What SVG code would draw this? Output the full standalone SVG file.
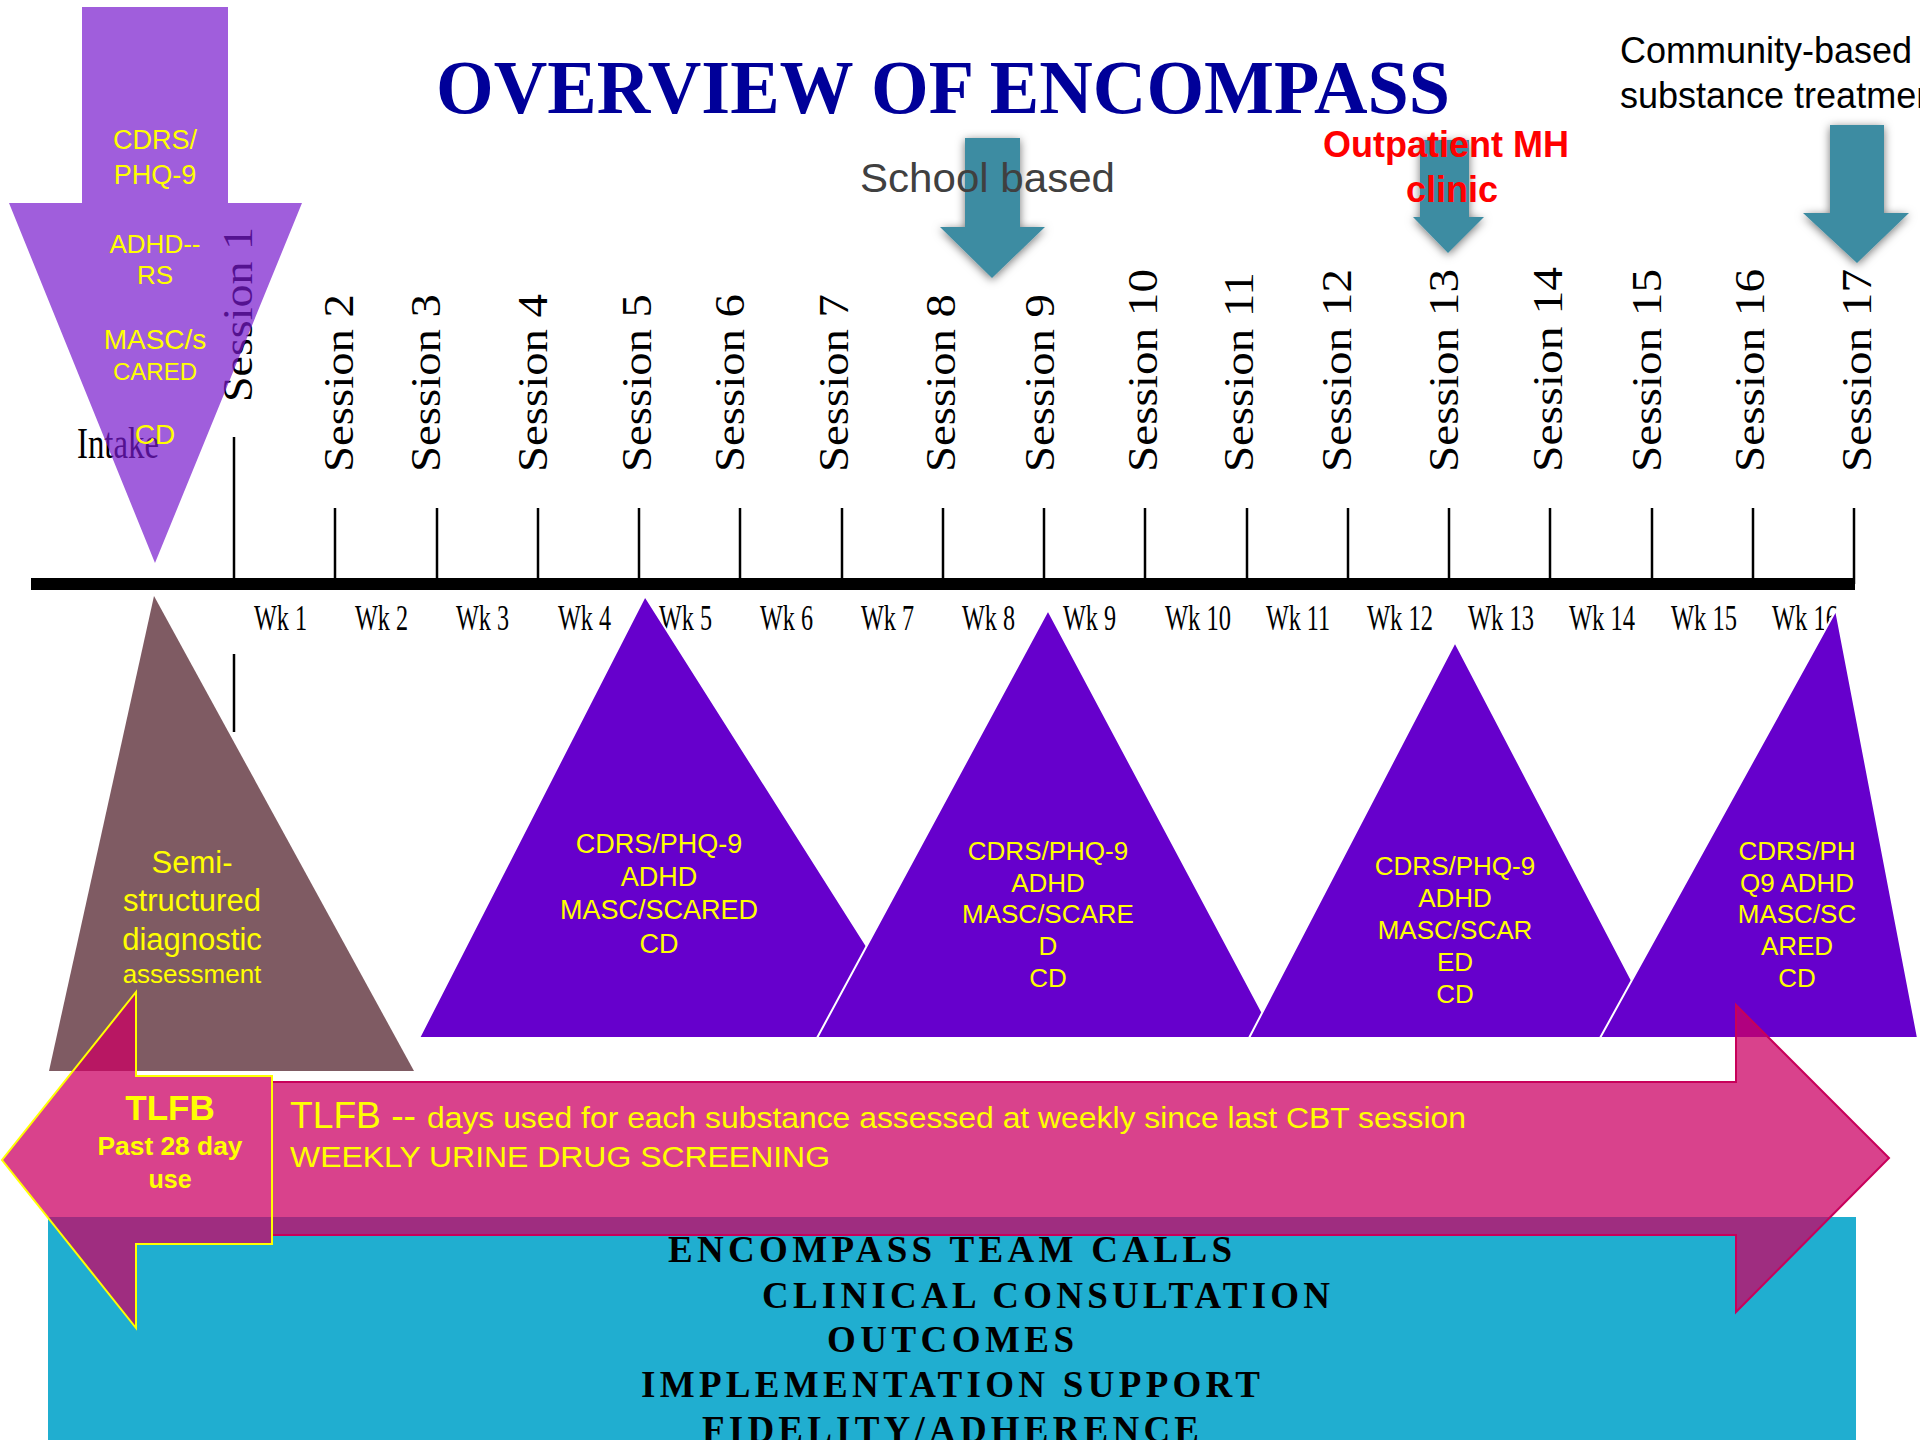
<svg xmlns="http://www.w3.org/2000/svg" width="1920" height="1440" viewBox="0 0 1920 1440">
<defs>
<style>
.sans{font-family:"Liberation Sans",Arial,sans-serif}
.serif{font-family:"Liberation Serif","Times New Roman",serif}
.ses{font-family:"Liberation Serif","Times New Roman",serif;font-size:42px;fill:#000}
.wk{font-family:"Liberation Serif","Times New Roman",serif;font-size:36px;fill:#000}
.y{fill:#ffff00;font-family:"Liberation Sans",Arial,sans-serif;text-anchor:middle}
.tri{fill:#6600cc;stroke:#ffffff;stroke-width:2}
.teal{fill:#3e8ca2}
.tick{stroke:#000;stroke-width:2.5}
.team{font-family:"Liberation Serif","Times New Roman",serif;font-weight:bold;font-size:37px;fill:#000}
</style>
<filter id="sh" x="-60%" y="-40%" width="220%" height="180%">
<feDropShadow dx="0" dy="2" stdDeviation="5" flood-color="#000" flood-opacity="0.55"/>
</filter>
</defs>
<rect width="1920" height="1440" fill="#ffffff"/>

<g id="title">
<text class="serif" x="436" y="113" font-size="76" font-weight="bold" fill="#000099" textLength="1014" lengthAdjust="spacingAndGlyphs">OVERVIEW OF ENCOMPASS</text>
</g>

<g id="setting-arrows">
<path class="teal" filter="url(#sh)" d="M965,138 H1020 V227 H1045 L992,278 L940,227 H965 Z"/>
<path class="teal" filter="url(#sh)" d="M1420,140 H1469 V217 H1484 L1448,253 L1413,217 H1420 Z"/>
<path class="teal" filter="url(#sh)" d="M1830,125 H1884 V213 H1909 L1857,263 L1803,213 H1830 Z"/>
</g>

<g id="school-based">
<text class="sans" x="860" y="192" font-size="40" fill="#404040" textLength="255" lengthAdjust="spacingAndGlyphs">School based</text>
</g>
<g id="outpatient">
<text class="sans" x="1446" y="157" font-size="36" font-weight="bold" fill="#ff0000" text-anchor="middle">Outpatient MH</text>
<text class="sans" x="1452" y="202" font-size="36" font-weight="bold" fill="#ff0000" text-anchor="middle">clinic</text>
</g>
<g id="community">
<text class="sans" x="1620" y="63" font-size="36" fill="#000">Community-based</text>
<text class="sans" x="1620" y="108" font-size="36" fill="#000">substance treatment</text>
</g>

<g id="sessions">
<text class="ses" transform="translate(252,402) rotate(-90)" textLength="175" lengthAdjust="spacingAndGlyphs">Session 1</text>
<text class="ses" transform="translate(353,472) rotate(-90)" textLength="178" lengthAdjust="spacingAndGlyphs">Session 2</text>
<text class="ses" transform="translate(440,472) rotate(-90)" textLength="178" lengthAdjust="spacingAndGlyphs">Session 3</text>
<text class="ses" transform="translate(547,472) rotate(-90)" textLength="178" lengthAdjust="spacingAndGlyphs">Session 4</text>
<text class="ses" transform="translate(651,472) rotate(-90)" textLength="178" lengthAdjust="spacingAndGlyphs">Session 5</text>
<text class="ses" transform="translate(744,472) rotate(-90)" textLength="178" lengthAdjust="spacingAndGlyphs">Session 6</text>
<text class="ses" transform="translate(848,472) rotate(-90)" textLength="178" lengthAdjust="spacingAndGlyphs">Session 7</text>
<text class="ses" transform="translate(955,472) rotate(-90)" textLength="178" lengthAdjust="spacingAndGlyphs">Session 8</text>
<text class="ses" transform="translate(1054,472) rotate(-90)" textLength="178" lengthAdjust="spacingAndGlyphs">Session 9</text>
<text class="ses" transform="translate(1157,472) rotate(-90)" textLength="203" lengthAdjust="spacingAndGlyphs">Session 10</text>
<text class="ses" transform="translate(1253,472) rotate(-90)" textLength="200" lengthAdjust="spacingAndGlyphs">Session 11</text>
<text class="ses" transform="translate(1351,472) rotate(-90)" textLength="203" lengthAdjust="spacingAndGlyphs">Session 12</text>
<text class="ses" transform="translate(1458,472) rotate(-90)" textLength="203" lengthAdjust="spacingAndGlyphs">Session 13</text>
<text class="ses" transform="translate(1562,472) rotate(-90)" textLength="205" lengthAdjust="spacingAndGlyphs">Session 14</text>
<text class="ses" transform="translate(1661,472) rotate(-90)" textLength="203" lengthAdjust="spacingAndGlyphs">Session 15</text>
<text class="ses" transform="translate(1764,472) rotate(-90)" textLength="203" lengthAdjust="spacingAndGlyphs">Session 16</text>
<text class="ses" transform="translate(1871,472) rotate(-90)" textLength="203" lengthAdjust="spacingAndGlyphs">Session 17</text>
<text class="serif" x="77" y="458" font-size="44" fill="#000" textLength="82" lengthAdjust="spacingAndGlyphs">Intake</text>
</g>

<g id="intake-arrow">
<path d="M82,7 H228 V203 H302 L155,563 L9,203 H82 Z" fill="#7719cd" fill-opacity="0.7"/>
<text class="y" x="155" y="149" font-size="27">CDRS/</text>
<text class="y" x="155" y="184" font-size="27">PHQ-9</text>
<text class="y" x="155" y="253" font-size="26">ADHD--</text>
<text class="y" x="155" y="284" font-size="26">RS</text>
<text class="y" x="155" y="349" font-size="28">MASC/s</text>
<text class="y" x="155" y="380" font-size="24">CARED</text>
<text class="y" x="155" y="444" font-size="28">CD</text>
</g>

<g id="timeline">
<rect x="31" y="578" width="1824" height="12" fill="#000"/>
<line class="tick" x1="234" y1="437" x2="234" y2="584"/>
<line class="tick" x1="335" y1="508" x2="335" y2="584"/>
<line class="tick" x1="437" y1="508" x2="437" y2="584"/>
<line class="tick" x1="538" y1="508" x2="538" y2="584"/>
<line class="tick" x1="639" y1="508" x2="639" y2="584"/>
<line class="tick" x1="740" y1="508" x2="740" y2="584"/>
<line class="tick" x1="842" y1="508" x2="842" y2="584"/>
<line class="tick" x1="943" y1="508" x2="943" y2="584"/>
<line class="tick" x1="1044" y1="508" x2="1044" y2="584"/>
<line class="tick" x1="1145" y1="508" x2="1145" y2="584"/>
<line class="tick" x1="1247" y1="508" x2="1247" y2="584"/>
<line class="tick" x1="1348" y1="508" x2="1348" y2="584"/>
<line class="tick" x1="1449" y1="508" x2="1449" y2="584"/>
<line class="tick" x1="1550" y1="508" x2="1550" y2="584"/>
<line class="tick" x1="1652" y1="508" x2="1652" y2="584"/>
<line class="tick" x1="1753" y1="508" x2="1753" y2="584"/>
<line class="tick" x1="1854" y1="508" x2="1854" y2="584"/>
<line class="tick" x1="234" y1="654" x2="234" y2="732"/>
<text class="wk" x="254" y="630" textLength="53" lengthAdjust="spacingAndGlyphs">Wk 1</text>
<text class="wk" x="355" y="630" textLength="53" lengthAdjust="spacingAndGlyphs">Wk 2</text>
<text class="wk" x="456" y="630" textLength="53" lengthAdjust="spacingAndGlyphs">Wk 3</text>
<text class="wk" x="558" y="630" textLength="53" lengthAdjust="spacingAndGlyphs">Wk 4</text>
<text class="wk" x="659" y="630" textLength="53" lengthAdjust="spacingAndGlyphs">Wk 5</text>
<text class="wk" x="760" y="630" textLength="53" lengthAdjust="spacingAndGlyphs">Wk 6</text>
<text class="wk" x="861" y="630" textLength="53" lengthAdjust="spacingAndGlyphs">Wk 7</text>
<text class="wk" x="962" y="630" textLength="53" lengthAdjust="spacingAndGlyphs">Wk 8</text>
<text class="wk" x="1063" y="630" textLength="53" lengthAdjust="spacingAndGlyphs">Wk 9</text>
<text class="wk" x="1165" y="630" textLength="66" lengthAdjust="spacingAndGlyphs">Wk 10</text>
<text class="wk" x="1266" y="630" textLength="64" lengthAdjust="spacingAndGlyphs">Wk 11</text>
<text class="wk" x="1367" y="630" textLength="66" lengthAdjust="spacingAndGlyphs">Wk 12</text>
<text class="wk" x="1468" y="630" textLength="66" lengthAdjust="spacingAndGlyphs">Wk 13</text>
<text class="wk" x="1569" y="630" textLength="66" lengthAdjust="spacingAndGlyphs">Wk 14</text>
<text class="wk" x="1671" y="630" textLength="66" lengthAdjust="spacingAndGlyphs">Wk 15</text>
<text class="wk" x="1772" y="630" textLength="66" lengthAdjust="spacingAndGlyphs">Wk 16</text>
</g>

<g id="diagnostic">
<path d="M154,596 L414,1071 L49,1071 Z" fill="#7f5b63"/>
<text class="y" x="192" y="873" font-size="31">Semi-</text>
<text class="y" x="192" y="911" font-size="31">structured</text>
<text class="y" x="192" y="950" font-size="31">diagnostic</text>
<text class="y" x="192" y="983" font-size="26">assessment</text>
</g>

<g id="measures-1">
<path class="tri" d="M645,596 L925,1038 L419,1038 Z"/>
<text class="y" x="659" y="853" font-size="27">CDRS/PHQ-9</text>
<text class="y" x="659" y="886" font-size="27">ADHD</text>
<text class="y" x="659" y="919" font-size="27">MASC/SCARED</text>
<text class="y" x="659" y="953" font-size="27">CD</text>
</g>
<g id="measures-2">
<path class="tri" d="M1048,610 L1276,1038 L817,1038 Z"/>
<text class="y" x="1048" y="860" font-size="26">CDRS/PHQ-9</text>
<text class="y" x="1048" y="892" font-size="26">ADHD</text>
<text class="y" x="1048" y="923" font-size="26">MASC/SCARE</text>
<text class="y" x="1048" y="955" font-size="26">D</text>
<text class="y" x="1048" y="987" font-size="26">CD</text>
</g>
<g id="measures-3">
<path class="tri" d="M1455,642 L1662,1038 L1249,1038 Z"/>
<text class="y" x="1455" y="875" font-size="26">CDRS/PHQ-9</text>
<text class="y" x="1455" y="907" font-size="26">ADHD</text>
<text class="y" x="1455" y="939" font-size="26">MASC/SCAR</text>
<text class="y" x="1455" y="971" font-size="26">ED</text>
<text class="y" x="1455" y="1003" font-size="26">CD</text>
</g>
<g id="measures-4">
<path class="tri" d="M1836,610 L1918,1038 L1600,1038 Z"/>
<text class="y" x="1797" y="860" font-size="26">CDRS/PH</text>
<text class="y" x="1797" y="892" font-size="26">Q9 ADHD</text>
<text class="y" x="1797" y="923" font-size="26">MASC/SC</text>
<text class="y" x="1797" y="955" font-size="26">ARED</text>
<text class="y" x="1797" y="987" font-size="26">CD</text>
</g>

<g id="team-support">
<rect x="48" y="1217" width="1808" height="223" fill="#20aed0"/>
<text class="team" x="668" y="1262" textLength="564" lengthAdjust="spacing">ENCOMPASS TEAM CALLS</text>
<text class="team" x="762" y="1308" textLength="568" lengthAdjust="spacing">CLINICAL CONSULTATION</text>
<text class="team" x="827" y="1352" textLength="247" lengthAdjust="spacing">OUTCOMES</text>
<text class="team" x="641" y="1397" textLength="619" lengthAdjust="spacing">IMPLEMENTATION SUPPORT</text>
<text class="team" x="702" y="1442" textLength="497" lengthAdjust="spacing">FIDELITY/ADHERENCE</text>
</g>

<g id="tlfb-weekly">
<path d="M272,1082 H1736 V1005 L1889,1158 L1736,1312 V1235 H272 Z" fill="#cc0064" fill-opacity="0.74" stroke="#c8005a" stroke-width="2"/>
<text class="sans" x="290" y="1128" font-size="36" fill="#ffff00" textLength="126" lengthAdjust="spacingAndGlyphs">TLFB --</text>
<text class="sans" x="427" y="1128" font-size="30" fill="#ffff00" textLength="1039" lengthAdjust="spacingAndGlyphs">days used for each substance assessed at weekly since last CBT session</text>
<text class="sans" x="290" y="1167" font-size="30" fill="#ffff00" textLength="540" lengthAdjust="spacingAndGlyphs">WEEKLY URINE DRUG SCREENING</text>
</g>
<g id="tlfb-baseline">
<path d="M272,1076 H136 V992 L2,1160 L136,1328 V1244 H272 Z" fill="#cc0064" fill-opacity="0.74" stroke="#ffff00" stroke-width="2"/>
<text class="y" x="170" y="1120" font-size="35" font-weight="bold">TLFB</text>
<text class="y" x="170" y="1155" font-size="25" font-weight="bold" textLength="145" lengthAdjust="spacingAndGlyphs">Past 28 day</text>
<text class="y" x="170" y="1188" font-size="25" font-weight="bold">use</text>
</g>
</svg>
